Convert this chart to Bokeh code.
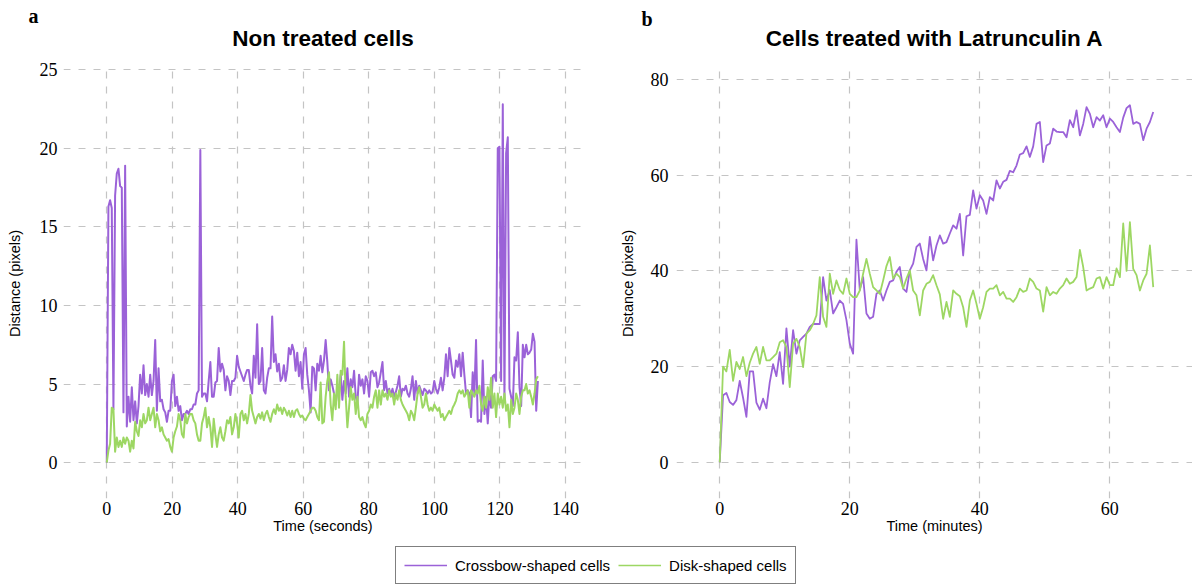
from bokeh.plotting import figure
from bokeh.layouts import column, row
from bokeh.models import (Range1d, FixedTicker, Label, Legend, LegendItem,
                          ColumnDataSource)
from bokeh.embed import file_html
from bokeh.resources import INLINE

# ---------------------------------------------------------------- data
# Panel a: non treated cells, one sample every 0.51 s
STEP_SECONDS = 0.51
crossbow_untreated = [
    0.0, 16.3, 16.7, 16.2, 3.4, 17.0, 18.4, 18.7, 17.6, 17.5, 3.2, 18.9, 2.3,
    4.2, 2.6, 4.8, 2.7, 3.9, 2.5, 3.6, 5.6, 4.4, 6.2, 4.3, 5.0, 4.2, 5.6, 4.3, 5.2, 7.8, 3.3,
    6.0, 3.9, 4.0, 3.4, 3.2, 2.6, 3.3, 3.3, 5.2, 5.6, 3.6, 4.2, 3.3, 3.6, 2.7, 3.1, 3.1, 3.3, 3.1, 3.4,
    3.4, 3.7, 3.7, 4.4, 4.6, 19.9, 4.2, 4.4, 4.4, 3.9, 5.2, 6.4, 4.2, 4.2, 5.1, 5.2, 7.3, 5.8, 6.3, 5.9,
    4.6, 5.5, 5.2, 4.3, 5.2, 5.2, 5.4, 6.8, 6.1, 5.8, 5.5, 5.2, 5.6, 5.9, 5.9, 4.9, 4.4, 6.8, 5.4, 8.8,
    5.0, 5.2, 7.3, 4.6, 4.4, 5.4, 6.0, 6.0, 9.3, 6.4, 6.9, 5.8, 6.3, 5.2, 5.4, 6.2, 5.2, 5.9, 7.3, 6.9,
    7.5, 7.1, 5.85, 7.0, 5.5, 6.4, 4.7, 6.9, 7.3, 5.6, 4.6, 3.2, 6.1, 6.0, 4.6, 6.3, 5.85, 6.8, 5.75, 6.5,
    7.8, 6.4, 4.6, 5.3, 4.9, 4.4, 3.7, 4.7, 4.4, 5.6, 4.0, 5.2, 4.4, 6.0, 4.2, 5.3, 4.8, 5.85, 4.2, 3.8,
    5.6, 4.9, 5.3, 4.4, 5.5, 5.2, 4.2, 5.75, 5.85, 5.5, 5.75, 4.8, 5.1, 5.75, 6.4, 4.6, 5.2, 4.4, 4.7, 4.3,
    4.7, 4.2, 4.5, 4.9, 5.5, 4.2, 4.7, 4.6, 4.9, 4.4, 4.2, 4.7, 5.5, 4.0, 5.2, 4.4, 4.9, 4.6, 4.3, 4.7,
    4.6, 4.4, 4.6, 4.4, 4.5, 5.2, 4.7, 4.4, 4.8, 5.4, 4.6, 5.4, 6.9, 5.5, 7.3, 6.5, 5.6, 5.4, 6.5, 6.1,
    6.9, 5.5, 7.0, 5.6, 4.4, 4.6, 4.4, 2.9, 5.75, 4.4, 7.8, 2.6, 2.7, 2.6, 6.5, 3.1, 4.2, 2.5, 4.4, 3.5,
    5.5, 5.6, 5.2, 20.0, 20.1, 5.2, 22.8, 3.9, 19.7, 20.7, 4.7, 4.2, 3.6, 6.7, 6.5, 8.3, 4.8, 3.6, 7.5, 6.7,
    7.5, 6.9, 7.0, 7.2, 8.2, 7.7, 3.3, 5.2,
]
disk_untreated = [
    0.0, 0.77, 1.2, 3.5, 3.4, 0.7, 1.6, 1.0, 1.4, 1.0, 1.6, 1.2, 1.6,
    1.4, 0.7, 1.4, 0.9, 2.6, 2.0, 1.7, 2.7, 2.25, 3.1, 2.5, 2.7, 3.5, 2.7, 3.1, 3.5, 2.25, 3.1,
    2.7, 2.0, 2.25, 1.8, 1.6, 1.4, 1.5, 1.0, 0.7, 1.6, 2.0, 2.3, 3.1, 2.7, 1.8, 1.6, 3.1, 2.5, 2.9, 3.1,
    3.1, 2.7, 2.5, 1.8, 1.4, 1.4, 2.5, 2.9, 3.5, 2.25, 2.9, 2.25, 1.0, 2.8, 1.8, 1.0, 1.8, 2.25, 1.6, 1.4,
    2.0, 2.7, 2.5, 2.9, 1.8, 2.25, 3.1, 2.5, 1.6, 3.1, 3.3, 2.7, 3.1, 2.5, 3.1, 4.3, 3.3, 2.9, 2.5, 2.9,
    3.1, 2.8, 3.2, 2.7, 3.1, 3.3, 2.9, 2.6, 3.1, 3.4, 3.1, 3.7, 3.3, 3.5, 3.1, 3.5, 3.3, 3.0, 3.3, 2.9,
    3.3, 2.9, 3.3, 3.4, 3.1, 2.9, 3.0, 2.8, 2.7, 2.9, 3.1, 3.3, 3.5, 3.5, 3.3, 2.9, 2.7, 5.1, 2.5, 2.6,
    4.2, 5.2, 5.75, 3.7, 2.7, 4.4, 3.4, 5.6, 3.5, 5.85, 5.6, 7.7, 4.2, 2.25, 3.5, 4.8, 4.0, 4.4, 3.1, 4.2,
    2.9, 2.7, 2.9, 2.5, 2.25, 3.1, 3.3, 3.7, 3.5, 4.2, 4.6, 3.5, 4.6, 3.7, 4.6, 4.2, 4.4, 4.0, 4.6, 4.2,
    4.4, 3.7, 4.4, 4.0, 4.6, 4.0, 3.7, 3.5, 3.3, 3.1, 2.7, 3.3, 3.1, 2.7, 3.5, 4.4, 4.8, 4.2, 3.5, 3.7,
    4.4, 3.7, 3.3, 3.5, 3.3, 3.7, 3.5, 3.3, 3.5, 2.9, 3.1, 2.7, 2.9, 3.1, 3.3, 3.1, 3.5, 3.7, 3.95, 4.4,
    4.6, 4.4, 4.6, 4.2, 4.4, 4.6, 3.5, 4.6, 4.4, 4.2, 4.6, 4.4, 4.9, 3.7, 3.3, 4.2, 3.5, 4.8, 4.0, 5.4,
    3.5, 4.4, 2.9, 4.4, 3.7, 4.2, 3.5, 4.4, 3.3, 3.7, 2.25, 4.0, 3.1, 3.5, 4.4, 4.0, 3.1, 4.2, 4.6, 4.6,
    5.0, 4.4, 4.6, 4.2, 3.7, 4.4, 5.3, 5.5,
]

# Panel b: cells treated with Latrunculin A, one sample every 0.513 min
STEP_MINUTES = 0.513
crossbow_latrunculin = [
    0.0, 14.0, 14.5, 12.6, 12.0, 13.0, 17.0, 13.5, 9.5, 19.0, 19.0, 12.5, 11.0, 13.3, 11.3,
    16.7, 20.5, 18.0, 23.0, 16.4, 28.0, 20.0, 27.6, 22.7, 25.5, 26.2, 26.9, 28.3, 28.9, 28.9, 28.9, 38.7, 33.8, 36.0, 31.1,
    32.4, 33.8, 33.1, 29.7, 24.8, 22.7, 46.5, 36.0, 38.7, 31.1, 30.0, 30.4, 35.2, 35.9, 33.8, 35.9, 37.7, 38.0, 39.8, 40.8,
    36.3, 35.6, 40.1, 41.5, 45.0, 45.7, 42.5, 40.1, 47.1, 42.2, 45.3, 47.4, 45.7, 46.0, 47.8, 49.5, 48.8, 51.9, 43.2, 51.4,
    51.7, 56.8, 53.0, 55.8, 54.7, 51.9, 55.4, 54.7, 58.9, 57.2, 58.6, 59.0, 60.9, 60.6, 62.0, 64.3, 64.6, 66.0, 63.8, 66.0,
    70.7, 71.1, 62.7, 66.2, 66.6, 69.7, 69.1, 69.0, 69.0, 67.9, 71.5, 70.0, 73.5, 68.3, 70.7, 74.2, 72.8, 70.0, 72.1, 71.4,
    72.5, 70.0, 71.8, 71.1, 70.0, 69.0, 72.0, 74.0, 74.6, 70.7, 71.1, 70.7, 67.3, 69.7, 71.1, 73.2,
]
disk_latrunculin = [
    0.0, 20.0, 19.0, 23.5, 17.0, 21.0, 19.5, 22.0, 18.0, 20.8, 22.7, 24.1, 20.6, 24.1, 21.3,
    21.3, 22.0, 22.7, 25.1, 25.5, 24.1, 15.7, 24.8, 25.8, 24.1, 19.9, 26.9, 27.6, 28.9, 30.7, 38.7, 30.4, 28.3, 39.4, 35.2,
    38.0, 36.0, 35.2, 38.4, 35.2, 34.5, 34.5, 35.9, 39.4, 42.5, 39.4, 36.6, 35.9, 35.2, 38.0, 41.0, 42.9, 38.4, 39.4, 38.7,
    36.3, 38.4, 40.1, 35.9, 34.9, 30.7, 35.9, 37.3, 37.7, 39.1, 37.0, 35.1, 30.0, 33.5, 30.4, 35.9, 35.2, 34.7, 32.4, 28.3,
    33.8, 35.9, 33.1, 30.0, 32.4, 35.6, 36.3, 36.3, 37.0, 34.9, 35.6, 34.2, 34.2, 33.5, 34.5, 36.3, 35.6, 35.9, 38.4, 37.7,
    36.3, 35.9, 31.5, 36.6, 34.9, 35.6, 35.2, 36.3, 37.0, 38.4, 37.3, 37.7, 38.7, 44.4, 40.8, 35.9, 36.3, 36.6, 38.4, 38.7,
    36.3, 38.7, 37.0, 37.0, 40.5, 38.7, 49.9, 40.0, 50.2, 40.4, 39.1, 35.9, 38.0, 39.4, 45.3, 36.6,
]

time_seconds = [round(i * STEP_SECONDS, 3) for i in range(len(crossbow_untreated))]
time_minutes = [round(i * STEP_MINUTES, 3) for i in range(len(crossbow_latrunculin))]

x_ticks_a = [0, 20, 40, 60, 80, 100, 120, 140]
y_ticks_a = [0, 5, 10, 15, 20, 25]
x_ticks_b = [0, 20, 40, 60]
y_ticks_b = [0, 20, 40, 60, 80]

panel_titles = ["Non treated cells", "Cells treated with Latrunculin A"]
panel_letters = ["a", "b"]
series_labels = ["Crossbow-shaped cells", "Disk-shaped cells"]

# ---------------------------------------------------------------- style
PURPLE = "#9b62d8"
GREEN = "#9dd763"
GRID = "#c4c4c4"
SANS = "Liberation Sans"
SERIF = "Liberation Serif"
HEADER_H = 58          # strip holding panel letters and headings
PANEL_H = 482
LEGEND_H = 46


def make_panel(x_label, x_range, y_range, x_ticks, y_ticks,
               border_left, border_right, tick_standoff, label_standoff,
               time, crossbow, disk, line_width):
    p = figure(width=596, height=PANEL_H,
               x_range=Range1d(*x_range), y_range=Range1d(*y_range),
               output_backend="svg", toolbar_location=None, title_location=None,
               min_border_left=border_left, min_border_right=border_right,
               min_border_top=10, min_border_bottom=42)
    p.outline_line_color = None
    p.background_fill_color = "white"
    p.border_fill_color = "white"

    p.xaxis.ticker = FixedTicker(ticks=x_ticks)
    p.yaxis.ticker = FixedTicker(ticks=y_ticks)
    p.xgrid.ticker = FixedTicker(ticks=x_ticks)
    p.ygrid.ticker = FixedTicker(ticks=y_ticks)
    p.xaxis.axis_label = x_label
    p.yaxis.axis_label = "Distance (pixels)"

    for ax in (p.xaxis[0], p.yaxis[0]):
        ax.axis_line_color = None
        ax.major_tick_line_color = None
        ax.minor_tick_line_color = None
        ax.major_tick_in = 0
        ax.major_tick_out = 0
        ax.major_label_text_font = SERIF
        ax.major_label_text_font_size = "18px"
        ax.major_label_text_color = "black"
        ax.axis_label_text_font = SANS
        ax.axis_label_text_font_size = "14.5px"
        ax.axis_label_text_font_style = "normal"
        ax.axis_label_text_color = "black"
    p.xaxis.major_label_standoff = 3
    p.xaxis.axis_label_standoff = 0
    p.yaxis.major_label_standoff = tick_standoff
    p.yaxis.axis_label_standoff = label_standoff

    for g in (p.xgrid[0], p.ygrid[0]):
        g.grid_line_color = GRID
        g.grid_line_width = 1.2
        g.grid_line_dash = "7 8"

    src = ColumnDataSource(dict(t=time, crossbow=crossbow, disk=disk))
    p.line(x="t", y="crossbow", source=src, line_color=PURPLE,
           line_width=line_width, line_join="round")
    p.line(x="t", y="disk", source=src, line_color=GREEN,
           line_width=line_width, line_join="round")
    return p


panel_a = make_panel("Time (seconds)", (-13.2, 145.2), (-2.28, 25.08),
                     x_ticks_a, y_ticks_a, 63, 14, 6, 14,
                     time_seconds, crossbow_untreated, disk_untreated, 2.0)
panel_b = make_panel("Time (minutes)", (-6.65, 72.73), (-7.55, 82.27),
                     x_ticks_b, y_ticks_b, 80, 0, 8, 12,
                     time_minutes, crossbow_latrunculin, disk_latrunculin, 1.8)

# header strip: pixel coordinates, y measured downwards from the top edge
header = figure(width=1192, height=HEADER_H, output_backend="svg",
                toolbar_location=None, title_location=None,
                x_axis_location=None, y_axis_location=None, min_border=0,
                x_range=Range1d(0, 1192), y_range=Range1d(HEADER_H, 0))
header.outline_line_color = None
header.grid.visible = False
header.background_fill_color = "white"
header.border_fill_color = "white"
# heading centres follow the plot frames: (63+582)/2 and (676+1192)/2
for text, cx in zip(panel_titles, [322.5, 934]):
    header.add_layout(Label(text=text, x=cx, y=37.5, text_align="center",
                            text_baseline="alphabetic", text_font=SANS,
                            text_font_size="22.5px", text_font_style="bold",
                            text_color="black"))
for text, (lx, ly) in zip(panel_letters, [(28, 15.5), (641, 18.5)]):
    header.add_layout(Label(text=text, x=lx, y=ly, text_align="left",
                            text_baseline="alphabetic", text_font=SERIF,
                            text_font_size="20px", text_font_style="bold",
                            text_color="black"))

# shared legend strip under both panels; the proxy lines hold no drawable point
legend_fig = figure(width=1192, height=LEGEND_H, output_backend="svg",
                    toolbar_location=None, title_location=None,
                    x_axis_location=None, y_axis_location=None, min_border=0,
                    x_range=Range1d(0, 1), y_range=Range1d(0, 1))
legend_fig.outline_line_color = None
legend_fig.grid.visible = False
nan = float("nan")
proxy_crossbow = legend_fig.line(x=[nan], y=[nan], line_color=PURPLE, line_width=1.5)
proxy_disk = legend_fig.line(x=[nan], y=[nan], line_color=GREEN, line_width=1.5)
legend = Legend(items=[LegendItem(label=series_labels[0], renderers=[proxy_crossbow]),
                       LegendItem(label=series_labels[1], renderers=[proxy_disk])],
                orientation="horizontal", location=(395, 2),
                label_text_font=SANS, label_text_font_size="15px",
                label_text_color="black",
                glyph_width=43, glyph_height=20, label_standoff=8,
                spacing=8, padding=8, margin=0,
                border_line_color="black", border_line_width=1,
                background_fill_color="white", background_fill_alpha=1.0)
legend_fig.add_layout(legend, "center")

layout = column(header, row(panel_a, panel_b), legend_fig)

with open("out.html", "w") as f:
    f.write(file_html(layout, INLINE))
